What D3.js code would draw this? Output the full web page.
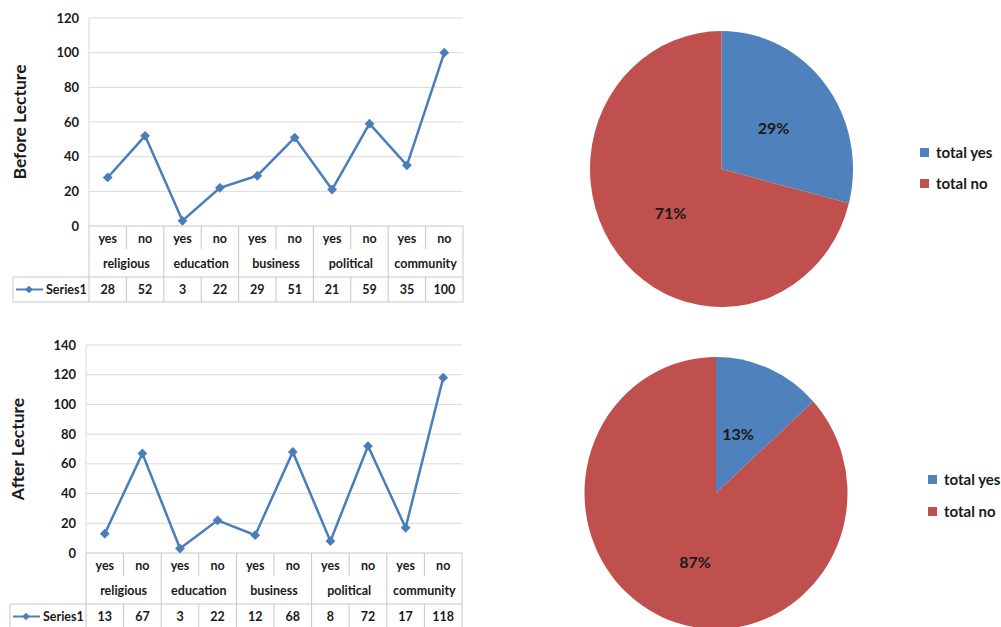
<!DOCTYPE html>
<html>
<head>
<meta charset="utf-8">
<script src="https://cdn.jsdelivr.net/npm/d3@7"></script>
<style>
  body { margin: 0; background: #fff; }
  svg text { font-family: Lato, "Open Sans", sans-serif; font-weight: bold; fill: #1a1a1a; }
</style>
</head>
<body>
<svg id="chart" width="1001" height="627"></svg>
<script>
// data
var answers = ['yes', 'no', 'yes', 'no', 'yes', 'no', 'yes', 'no', 'yes', 'no'];
var groups = ['religious', 'education', 'business', 'political', 'community'];
var beforeValues = [28, 52, 3, 22, 29, 51, 21, 59, 35, 100];
var afterValues = [13, 67, 3, 22, 12, 68, 8, 72, 17, 118];
var beforeTicks = [0, 20, 40, 60, 80, 100, 120];
var afterTicks = [0, 20, 40, 60, 80, 100, 120, 140];
var pieLabels = ['total yes', 'total no'];
var seriesName = 'Series1';

var BLUE = '#4f81bd';
var RED = '#c0504d';
var LINE = '#4a7ebb';
var GRID = '#d9d9d9';
var TABLE = '#c8c8c8';

var svg = d3.select('#chart');

function totals(values) {
  var yes = d3.sum(values.filter(function (v, i) { return answers[i] === 'yes'; }));
  var no = d3.sum(values.filter(function (v, i) { return answers[i] === 'no'; }));
  return [yes, no];
}

// square turned 45 degrees, like the office diamond marker
var diamond = d3.symbol().type(d3.symbolSquare).size(48);

function lineChart(opt) {
  var g = svg.append('g');
  var x = d3.scaleBand().domain(d3.range(answers.length)).range([opt.left, opt.right]);
  var y = d3.scaleLinear().domain([0, d3.max(opt.ticks)]).range([opt.bottom, opt.top]);

  // grid
  g.selectAll('.grid').data(opt.ticks.slice(1)).enter().append('line')
    .attr('x1', opt.left).attr('x2', opt.right)
    .attr('y1', function (d) { return y(d); }).attr('y2', function (d) { return y(d); })
    .attr('stroke', GRID).attr('stroke-width', 1);
  g.append('line').attr('x1', opt.left).attr('x2', opt.left)
    .attr('y1', opt.top).attr('y2', opt.bottom).attr('stroke', GRID);

  g.selectAll('.tick').data(opt.ticks).enter().append('text')
    .attr('x', opt.left - 10).attr('y', function (d) { return y(d); })
    .attr('dy', '0.35em').attr('text-anchor', 'end')
    .style('font-size', '13px').text(function (d) { return d; });

  g.append('text')
    .attr('transform', 'translate(' + opt.titleX + ',' + ((opt.top + opt.bottom) / 2) + ') rotate(-90)')
    .attr('text-anchor', 'middle').attr('dy', '0.35em')
    .style('font-size', '17.5px').text(opt.title);

  // table
  var r1 = opt.bottom + 25, r2 = r1 + 26, r3 = r2 + 25;
  var tl = g.append('g').attr('stroke', TABLE).attr('stroke-width', 1);
  tl.append('line').attr('x1', opt.left).attr('x2', opt.right).attr('y1', opt.bottom).attr('y2', opt.bottom);
  tl.append('line').attr('x1', opt.tableLeft).attr('x2', opt.right).attr('y1', r2).attr('y2', r2);
  tl.append('line').attr('x1', opt.tableLeft).attr('x2', opt.right).attr('y1', r3).attr('y2', r3);
  tl.append('line').attr('x1', opt.tableLeft).attr('x2', opt.tableLeft).attr('y1', r2).attr('y2', r3);
  d3.range(answers.length + 1).forEach(function (i) {
    var xx = i < answers.length ? x(i) : opt.right;
    if (i % 2 === 0) {
      tl.append('line').attr('x1', xx).attr('x2', xx).attr('y1', opt.bottom).attr('y2', r3);
    } else {
      tl.append('line').attr('x1', xx).attr('x2', xx).attr('y1', opt.bottom).attr('y2', r1 - 2);
      tl.append('line').attr('x1', xx).attr('x2', xx).attr('y1', r2).attr('y2', r3);
    }
  });

  g.selectAll('.ans').data(answers).enter().append('text')
    .attr('x', function (d, i) { return x(i) + x.bandwidth() / 2; })
    .attr('y', (opt.bottom + r1) / 2).attr('dy', '0.35em').attr('text-anchor', 'middle')
    .style('font-size', '12.5px').text(function (d) { return d; });
  g.selectAll('.grp').data(groups).enter().append('text')
    .attr('x', function (d, i) { return x(i * 2) + x.bandwidth(); })
    .attr('y', (r1 + r2) / 2).attr('dy', '0.35em').attr('text-anchor', 'middle')
    .style('font-size', '12.5px').text(function (d) { return d; });
  g.selectAll('.val').data(opt.values).enter().append('text')
    .attr('x', function (d, i) { return x(i) + x.bandwidth() / 2; })
    .attr('y', (r2 + r3) / 2).attr('dy', '0.35em').attr('text-anchor', 'middle')
    .style('font-size', '12.5px').text(function (d) { return d; });

  var ly = (r2 + r3) / 2;
  g.append('line').attr('x1', opt.tableLeft + 3).attr('x2', opt.tableLeft + 30)
    .attr('y1', ly).attr('y2', ly).attr('stroke', LINE).attr('stroke-width', 2);
  g.append('path').attr('d', d3.symbol().type(d3.symbolSquare).size(30)).attr('fill', LINE)
    .attr('transform', 'translate(' + (opt.tableLeft + 16) + ',' + ly + ') rotate(45)');
  g.append('text').attr('x', opt.tableLeft + 33).attr('y', ly).attr('dy', '0.35em')
    .style('font-size', '12.5px').text(seriesName);

  // line
  var line = d3.line()
    .x(function (d, i) { return x(i) + x.bandwidth() / 2; })
    .y(function (d) { return y(d); });
  g.append('path').datum(opt.values).attr('d', line)
    .attr('fill', 'none').attr('stroke', LINE).attr('stroke-width', 2.5);
  g.selectAll('.pt').data(opt.values).enter().append('path')
    .attr('d', diamond).attr('fill', LINE)
    .attr('transform', function (d, i) {
      return 'translate(' + (x(i) + x.bandwidth() / 2) + ',' + y(d) + ') rotate(45)';
    });
}

function pieChart(opt) {
  var data = totals(opt.values);
  var sum = d3.sum(data);
  var pie = d3.pie().sort(null)(data);
  var arc = d3.arc().innerRadius(0).outerRadius(opt.r);
  var g = svg.append('g')
    .attr('transform', 'translate(' + opt.cx + ',' + opt.cy + ') scale(1,' + opt.sy + ')');
  g.selectAll('.slice').data(pie).enter().append('path')
    .attr('d', arc).attr('fill', function (d, i) { return i === 0 ? BLUE : RED; });

  var lg = svg.append('g').attr('transform', 'translate(' + opt.cx + ',' + opt.cy + ')');
  lg.selectAll('.pct').data(pie).enter().append('text')
    .attr('x', function (d, i) { return opt.labelPos[i][0]; })
    .attr('y', function (d, i) { return opt.labelPos[i][1]; })
    .attr('dy', '0.35em').attr('text-anchor', 'middle')
    .style('font-size', opt.fs + 'px')
    .text(function (d) { return Math.round(d.data / sum * 100) + '%'; });

  var leg = svg.append('g');
  pieLabels.forEach(function (lab, i) {
    var yy = opt.legY + i * opt.legGap;
    leg.append('rect').attr('x', opt.legX).attr('y', yy - 5).attr('width', 9).attr('height', 9)
      .attr('fill', i === 0 ? BLUE : RED);
    leg.append('text').attr('x', opt.legX + 16).attr('y', yy).attr('dy', '0.35em')
      .style('font-size', opt.legFs + 'px').text(lab);
  });
}

lineChart({
  values: beforeValues, ticks: beforeTicks, title: 'Before Lecture',
  left: 89, right: 463, top: 18, bottom: 226, tableLeft: 13, titleX: 20
});
lineChart({
  values: afterValues, ticks: afterTicks, title: 'After Lecture',
  left: 86, right: 462, top: 345, bottom: 553, tableLeft: 10, titleX: 18
});

pieChart({
  values: beforeValues, cx: 721.5, cy: 169, r: 131.5, sy: 138 / 131.5,
  labelPos: [[52, -41], [-51, 44]], fs: 16,
  legX: 920, legY: 153, legGap: 31, legFs: 15
});
pieChart({
  values: afterValues, cx: 716, cy: 493, r: 131.5, sy: 136 / 131.5,
  labelPos: [[22, -59], [-21, 69]], fs: 16,
  legX: 928, legY: 480, legGap: 32, legFs: 15
});
</script>
</body>
</html>
